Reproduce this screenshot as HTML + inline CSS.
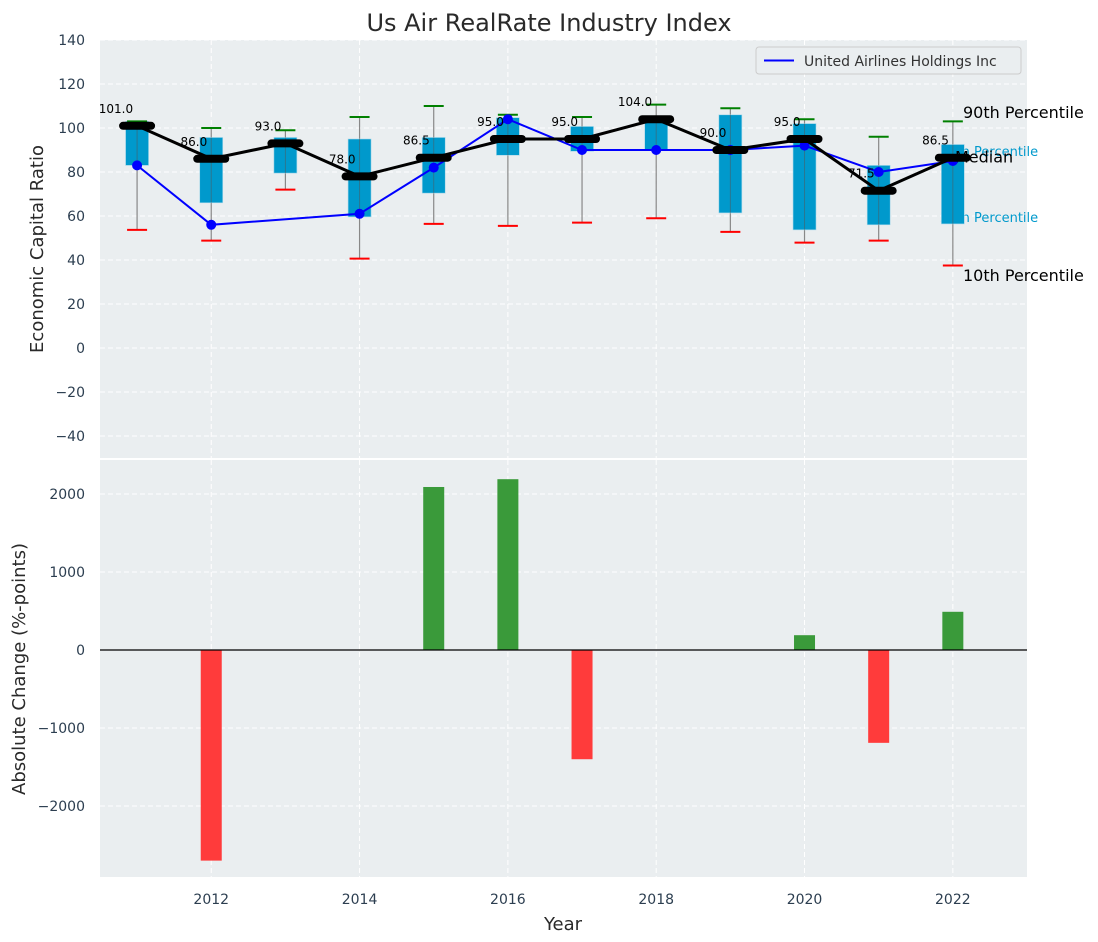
<!DOCTYPE html>
<html><head><meta charset="utf-8"><style>
body{margin:0;background:#fff;}
svg{display:block;font-family:"DejaVu Sans","Liberation Sans",sans-serif;}
</style></head><body>
<svg id="c" width="1098" height="942"></svg>
<script>
const years=[2011,2012,2013,2014,2015,2016,2017,2018,2019,2020,2021,2022];
const medians=[101,86,93,78,86.5,95,95,104,90,95,71.5,86.5];
const q75=[103,95.7,95.7,95,95.7,104.7,100.7,105,106,102,83,92.5];
const q25=[83,66,79.5,59.6,70.4,87.6,89.4,90,61.4,53.7,56,56.4];
const p90=[103,100,99,105,110,106,105,110.6,109,104,96,103];
const p10=[53.7,48.8,72,40.6,56.4,55.5,57,59,52.8,47.9,48.8,37.5];
const company=[83,56,null,61,82,104,90,90,90,92,80,85];
const changes=[0,-2700,0,0,2090,2190,-1400,0,0,190,-1190,490];
const topTicks=[-40,-20,0,20,40,60,80,100,120,140];
const botTicks=[-2000,-1000,0,1000,2000];
const xTicks=[2012,2014,2016,2018,2020,2022];

const NS="http://www.w3.org/2000/svg";
const svg=document.getElementById('c');
function mk(t,a,p){const e=document.createElementNS(NS,t);for(const k in a)e.setAttribute(k,a[k]);(p||svg).appendChild(e);return e;}
const X0=100,X1=1027,T0=40,T1=458,B0=460,B1=877;
const x=v=>X0+(v-2010.5)/(2023-2010.5)*(X1-X0);
const yt=v=>T0+(140-v)/(140+50)*(T1-T0);
const yb=v=>B0+(2436-v)/(2436+2910)*(B1-B0);

let e=mk('rect',{x:X0,y:T0,width:X1-X0,height:T1-T0,fill:'#eaeef0'});

e=mk('rect',{x:X0,y:B0,width:X1-X0,height:B1-B0,fill:'#eaeef0'});

xTicks.forEach(v=>{[[T0,T1],[B0,B1]].forEach(r=>{e=mk('line',{x1:x(v),x2:x(v),y1:r[0],y2:r[1],stroke:'#fff','stroke-dasharray':'5,3','stroke-width':1});
});
 e=mk('text',{x:x(v),y:904,'text-anchor':'middle','font-size':14,fill:'#2c3e50'});e.textContent=v;
 });
topTicks.forEach(v=>{e=mk('line',{x1:X0,x2:X1,y1:yt(v),y2:yt(v),stroke:'#fff','stroke-dasharray':'5,3'});
 
 e=mk('text',{x:85,y:yt(v)+5,'text-anchor':'end','font-size':14,fill:'#2c3e50'});e.textContent=v<0?'\u2212'+(-v):v;
 });
botTicks.forEach(v=>{e=mk('line',{x1:X0,x2:X1,y1:yb(v),y2:yb(v),stroke:'#fff','stroke-dasharray':'5,3'});
 
 e=mk('text',{x:85,y:yb(v)+5,'text-anchor':'end','font-size':14,fill:'#2c3e50'});e.textContent=v<0?'\u2212'+(-v):v;
 });

function lab(t,xx,yy,fs,col,name){e=mk('text',{x:xx,y:yy,'font-size':fs,fill:col});e.textContent=t;}
lab('75th Percentile',940,156,13,'#0099cc','p75-label');
lab('25th Percentile',940,222,13,'#0099cc','p25-label');

years.forEach((yr,i)=>{
 const cx=x(yr);
 e=mk('line',{x1:cx,x2:cx,y1:yt(p90[i]),y2:yt(p10[i]),stroke:'#888','stroke-width':1.2});
 
 e=mk('rect',{x:cx-11.5,y:yt(q75[i]),width:23,height:yt(q25[i])-yt(q75[i]),fill:'#0099cc',stroke:'#a8d8ea','stroke-width':0.6});
 
 e=mk('line',{x1:cx,x2:cx,y1:yt(q75[i]),y2:yt(q25[i]),stroke:'#555','stroke-width':1,opacity:0.5});
 
 e=mk('line',{x1:cx-10,x2:cx+10,y1:yt(p90[i]),y2:yt(p90[i]),stroke:'green','stroke-width':2});
 
 e=mk('line',{x1:cx-10,x2:cx+10,y1:yt(p10[i]),y2:yt(p10[i]),stroke:'red','stroke-width':2});
 
});
lab('Median',955,yt(medians[11])+5,16,'#000','median-label');
lab('90th Percentile',963,118,16,'#000','p90-label');
lab('10th Percentile',963,281,16,'#000','p10-label');

let pts=[];years.forEach((yr,i)=>{if(company[i]!=null)pts.push(x(yr)+','+yt(company[i]));});
e=mk('polyline',{points:pts.join(' '),fill:'none',stroke:'blue','stroke-width':2});

years.forEach((yr,i)=>{if(company[i]==null)return;e=mk('circle',{cx:x(yr),cy:yt(company[i]),r:5,fill:'blue'});
 });
e=mk('polyline',{points:years.map((yr,i)=>x(yr)+','+yt(medians[i])).join(' '),fill:'none',stroke:'#000','stroke-width':3});

years.forEach((yr,i)=>{const cx=x(yr),cy=yt(medians[i]);
 e=mk('line',{x1:cx-14,x2:cx+14,y1:cy,y2:cy,stroke:'#000','stroke-width':8,'stroke-linecap':'round'});
 
 e=mk('text',{x:cx-4,y:cy-13,'text-anchor':'end','font-size':12,fill:'#000'});e.textContent=medians[i].toFixed(1);
 });

years.forEach((yr,i)=>{const v=changes[i];if(!v)return;
 e=mk('rect',{x:x(yr)-10.5,y:Math.min(yb(v),yb(0)),width:21,height:Math.abs(yb(v)-yb(0)),fill:v>0?'#3a9a3a':'#ff3b3b'});
 });
e=mk('line',{x1:X0,x2:X1,y1:yb(0),y2:yb(0),stroke:'#000','stroke-width':1.2});


const lg=mk('g',{});
mk('rect',{x:756,y:47,width:265,height:27,rx:3,fill:'#eaeef0',stroke:'#ccc'},lg);
mk('line',{x1:764,x2:794,y1:60.5,y2:60.5,stroke:'blue','stroke-width':2},lg);
e=mk('text',{x:804,y:66,'font-size':14,fill:'#333'},lg);e.textContent='United Airlines Holdings Inc';


e=mk('text',{x:549,y:31,'text-anchor':'middle','font-size':24,fill:'#2a2a2a'});e.textContent='Us Air RealRate Industry Index';

e=mk('text',{x:563,y:930,'text-anchor':'middle','font-size':18,fill:'#2a2a2a'});e.textContent='Year';

e=mk('text',{x:0,y:0,'text-anchor':'middle','font-size':18,fill:'#2a2a2a',transform:'translate(43,249) rotate(-90)'});e.textContent='Economic Capital Ratio';

e=mk('text',{x:0,y:0,'text-anchor':'middle','font-size':18,fill:'#2a2a2a',transform:'translate(25,669) rotate(-90)'});e.textContent='Absolute Change (%-points)';

</script>
</body></html>
